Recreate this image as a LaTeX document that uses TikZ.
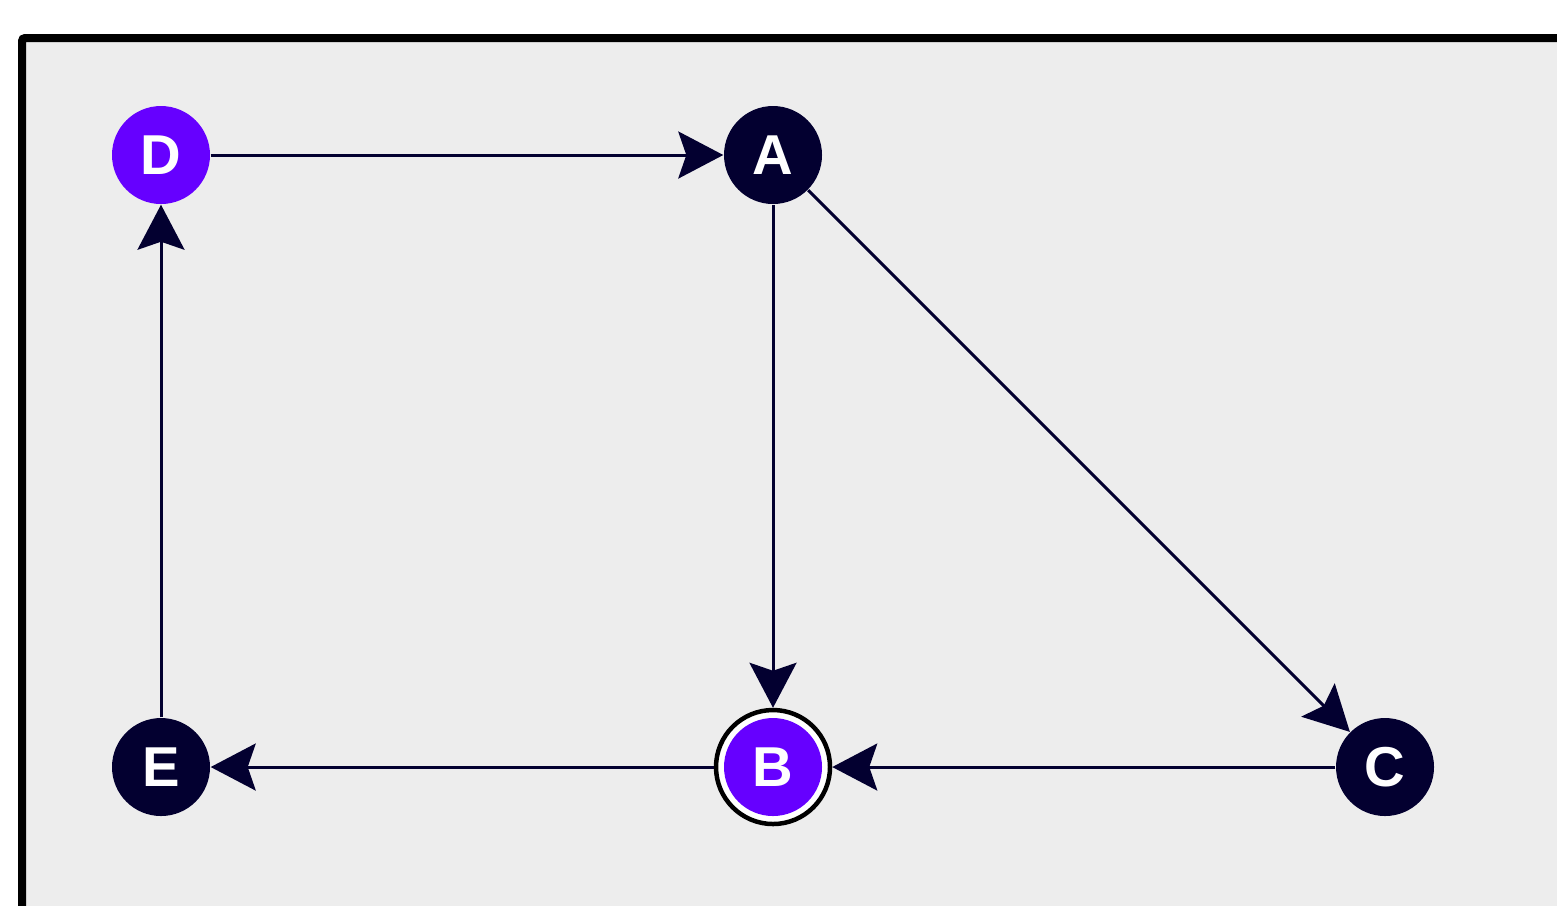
\documentclass[tikz,border=0pt]{standalone}
\usepackage{fontspec}
\setmainfont{Liberation Sans}
\usetikzlibrary{arrows.meta}
\definecolor{navy}{RGB}{3,0,48}
\definecolor{violet}{RGB}{102,0,255}
\definecolor{panel}{RGB}{237,237,237}
\begin{document}
\begin{tikzpicture}[
        >={Stealth[length=0.45cm, width=0.47cm, inset=0.08cm, fill=navy]},
        every node/.style={circle, inner sep=0pt, minimum size=0.98cm, text=white,
            font=\fontsize{16}{18}\selectfont\bfseries},
        plain/.style={fill=navy},
        marked/.style={fill=violet},
        current/.style={draw=black, line width=0.045cm, fill=white, minimum size=1.14cm,
            path picture={\fill[violet] (path picture bounding box.center) circle (0.49);}},
        link/.style={draw=navy, line width=0.03cm}]
    \clip (0,0) rectangle (15.57,-9.05);
    \draw[line width=0.08cm, rounded corners=0.03cm, fill=panel] (0.22,-0.38) rectangle (16,-10);

    \node[marked] (D) at (1.61,-1.55) {D};
    \node[plain] (A) at (7.73,-1.55) {A};
    \node[plain] (E) at (1.61,-7.67) {E};
    \node[current] (B) at (7.73,-7.67) {B};
    \node[plain] (C) at (13.85,-7.67) {C};

    \draw[link, ->] (D) -- (A);
    \draw[link, ->] (A) -- (B);
    \draw[link, ->] (A) -- (C);
    \draw[link, ->] (C) -- (B);
    \draw[link, ->] (B) -- (E);
    \draw[link, ->] (E) -- (D);
\end{tikzpicture}
\end{document}
